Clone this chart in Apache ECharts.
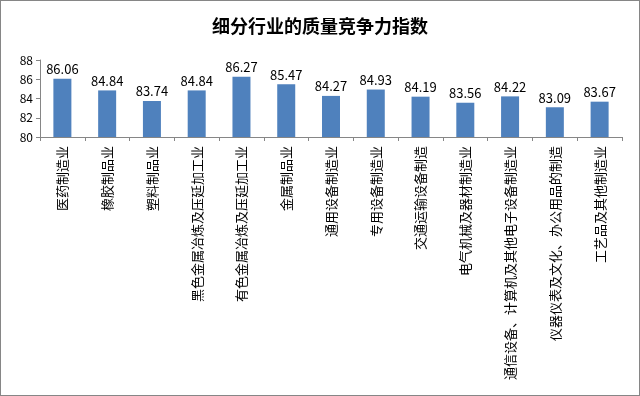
<!DOCTYPE html>
<html>
<head>
<meta charset="utf-8">
<script src="https://cdn.jsdelivr.net/npm/echarts@6/dist/echarts.min.js"></script>
<style>
  html, body { margin: 0; padding: 0; background: #fff; }
  #chart { width: 638px; height: 394px; border: 1px solid #868686; }
</style>
</head>
<body>
<div id="chart"></div>
<script>
  // 行业名称
  var industries = [
    '医药制造业', '橡胶制品业', '塑料制品业', '黑色金属冶炼及压延加工业',
    '有色金属冶炼及压延加工业', '金属制品业', '通用设备制造业', '专用设备制造业',
    '交通运输设备制造', '电气机械及器材制造业', '通信设备、计算机及其他电子设备制造业',
    '仪器仪表及文化、办公用品的制造', '工艺品及其他制造业'
  ]
  // 质量竞争力指数
  var scores = [86.06, 84.84, 83.74, 84.84, 86.27, 85.47, 84.27, 84.93, 84.19, 83.56, 84.22, 83.09, 83.67]
  var yTicks = [80, 82, 84, 86, 88]

  var chart = echarts.init(document.getElementById('chart'))
  chart.setOption({
    animation: false,
    textStyle: { fontFamily: '"Noto Sans CJK SC", sans-serif' },
    title: {
      text: '细分行业的质量竞争力指数',
      left: 'center',
      top: 11,
      textStyle: { fontSize: 18, fontWeight: 'bold', color: '#000' }
    },
    grid: { left: 39, right: 17, top: 59, bottom: 258 },
    xAxis: {
      type: 'category',
      data: industries,
      axisLine: { lineStyle: { color: '#868686' } },
      axisTick: { show: true, length: 4, lineStyle: { color: '#868686' } },
      axisLabel: {
        interval: 0,
        rotate: 90,
        margin: 9,
        fontSize: 13,
        color: '#000'
      }
    },
    yAxis: {
      type: 'value',
      min: yTicks[0],
      max: yTicks[yTicks.length - 1],
      interval: 2,
      splitLine: { show: false },
      axisLine: { show: true, lineStyle: { color: '#868686' } },
      axisTick: { show: true, length: 4, lineStyle: { color: '#868686' } },
      axisLabel: { fontSize: 12, color: '#000', margin: 7 }
    },
    series: [{
      type: 'bar',
      data: scores,
      barWidth: 18,
      itemStyle: { color: '#4F81BD' },
      label: {
        show: true,
        position: 'top',
        distance: 3,
        fontSize: 13,
        color: '#000',
        formatter: function (p) { return p.value.toFixed(2) }
      }
    }]
  })
</script>
</body>
</html>
